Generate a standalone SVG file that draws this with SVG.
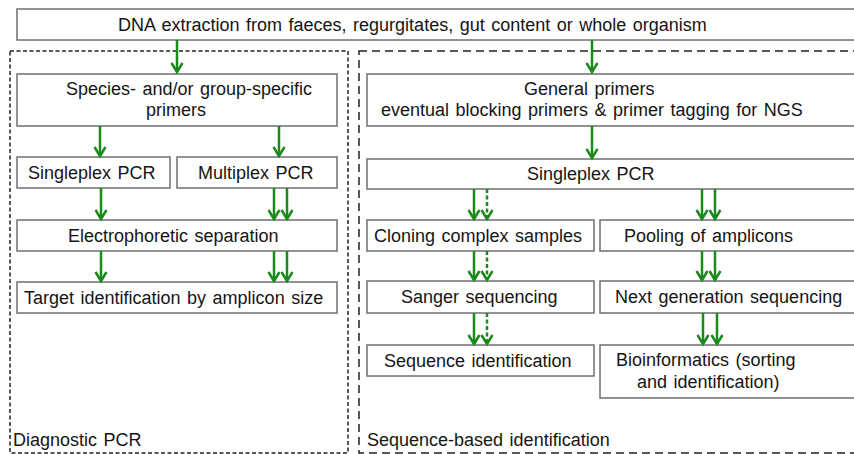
<svg xmlns="http://www.w3.org/2000/svg" width="854" height="454" viewBox="0 0 854 454">
<style>
.box{fill:#fff;stroke:#6f6f6f;stroke-width:1.5}
.t{font-family:"Liberation Sans",Arial,sans-serif;font-size:18px;fill:#151515;word-spacing:1.5px}
.a{stroke:#1a8a1a;stroke-width:2.5;fill:none;marker-end:url(#ah)}
.d{stroke-dasharray:4 2.5}
.regL{fill:none;stroke:#222;stroke-width:1.5;stroke-dasharray:4 2.5}
.regR{fill:none;stroke:#222;stroke-width:1.5;stroke-dasharray:8 5}
</style>
<defs>
<marker id="ah" markerUnits="userSpaceOnUse" markerWidth="16" markerHeight="16" viewBox="-12 -8 14 16" refX="0" refY="0" orient="auto">
<path d="M-9,-5.5 L0,0 L-9,5.5" fill="none" stroke="#1a8a1a" stroke-width="2.5" stroke-linejoin="miter"/>
</marker>
</defs>
<rect width="854" height="454" fill="#fff"/>
<g id="region-diagnostic">
<rect class="regL" x="10" y="51" width="338" height="402"/>
<text class="t" x="13" y="446">Diagnostic PCR</text>
</g>
<g id="region-sequence">
<rect class="regR" x="359" y="51" width="510" height="402"/>
<text class="t" x="367" y="446">Sequence-based identification</text>
</g>
<g id="dna">
<rect class="box" x="17" y="9" width="850" height="31"/>
<text class="t" x="118" y="31">DNA extraction from faeces, regurgitates, gut content or whole organism</text>
</g>
<g id="species">
<rect class="box" x="17" y="74" width="320" height="52"/>
<text class="t" x="66" y="95">Species- and/or group-specific</text>
<text class="t" x="146" y="116">primers</text>
</g>
<g id="general">
<rect class="box" x="367" y="74" width="500" height="52"/>
<text class="t" x="524" y="95">General primers</text>
<text class="t" x="381" y="116">eventual blocking primers &amp; primer tagging for NGS</text>
</g>
<g id="singleplex-l">
<rect class="box" x="17" y="157" width="153" height="31"/>
<text class="t" x="28" y="179">Singleplex PCR</text>
</g>
<g id="multiplex">
<rect class="box" x="177" y="157" width="160" height="31"/>
<text class="t" x="198" y="179">Multiplex PCR</text>
</g>
<g id="electro">
<rect class="box" x="17" y="220" width="320" height="31"/>
<text class="t" x="68" y="242">Electrophoretic separation</text>
</g>
<g id="target">
<rect class="box" x="17" y="282" width="320" height="31"/>
<text class="t" x="24" y="304">Target identification by amplicon size</text>
</g>
<g id="singleplex-r">
<rect class="box" x="367" y="159" width="500" height="30"/>
<text class="t" x="527" y="180">Singleplex PCR</text>
</g>
<g id="cloning">
<rect class="box" x="367" y="220" width="227" height="31"/>
<text class="t" x="374" y="242">Cloning complex samples</text>
</g>
<g id="pooling">
<rect class="box" x="600" y="220" width="267" height="31"/>
<text class="t" x="624" y="242">Pooling of amplicons</text>
</g>
<g id="sanger">
<rect class="box" x="367" y="281" width="227" height="32"/>
<text class="t" x="401" y="303">Sanger sequencing</text>
</g>
<g id="ngs">
<rect class="box" x="600" y="281" width="267" height="32"/>
<text class="t" x="615" y="303">Next generation sequencing</text>
</g>
<g id="seqid">
<rect class="box" x="367" y="345" width="227" height="31"/>
<text class="t" x="384" y="367">Sequence identification</text>
</g>
<g id="bioinf">
<rect class="box" x="600" y="345" width="267" height="53"/>
<text class="t" x="616" y="366">Bioinformatics (sorting</text>
<text class="t" x="637" y="388">and identification)</text>
</g>
<g id="connectors">
<line class="a" x1="177" y1="40" x2="177" y2="72"/>
<line class="a" x1="592" y1="40" x2="592" y2="72"/>
<line class="a" x1="100" y1="126" x2="100" y2="156"/>
<line class="a" x1="279" y1="126" x2="279" y2="156"/>
<line class="a" x1="592" y1="126" x2="592" y2="158"/>
<line class="a" x1="101" y1="188" x2="101" y2="219"/>
<line class="a" x1="274" y1="188" x2="274" y2="219"/>
<line class="a" x1="287" y1="188" x2="287" y2="219"/>
<line class="a" x1="101" y1="251" x2="101" y2="281"/>
<line class="a" x1="274" y1="251" x2="274" y2="281"/>
<line class="a" x1="287" y1="251" x2="287" y2="281"/>
<line class="a" x1="474" y1="189" x2="474" y2="219"/>
<line class="a d" x1="487" y1="189" x2="487" y2="219"/>
<line class="a" x1="702" y1="189" x2="702" y2="219"/>
<line class="a" x1="715" y1="189" x2="715" y2="219"/>
<line class="a" x1="474" y1="251" x2="474" y2="280"/>
<line class="a d" x1="487" y1="251" x2="487" y2="280"/>
<line class="a" x1="702" y1="251" x2="702" y2="280"/>
<line class="a" x1="715" y1="251" x2="715" y2="280"/>
<line class="a" x1="474" y1="313" x2="474" y2="344"/>
<line class="a d" x1="487" y1="313" x2="487" y2="344"/>
<line class="a" x1="703" y1="313" x2="703" y2="344"/>
<line class="a" x1="717" y1="313" x2="717" y2="344"/>
</g>
</svg>
